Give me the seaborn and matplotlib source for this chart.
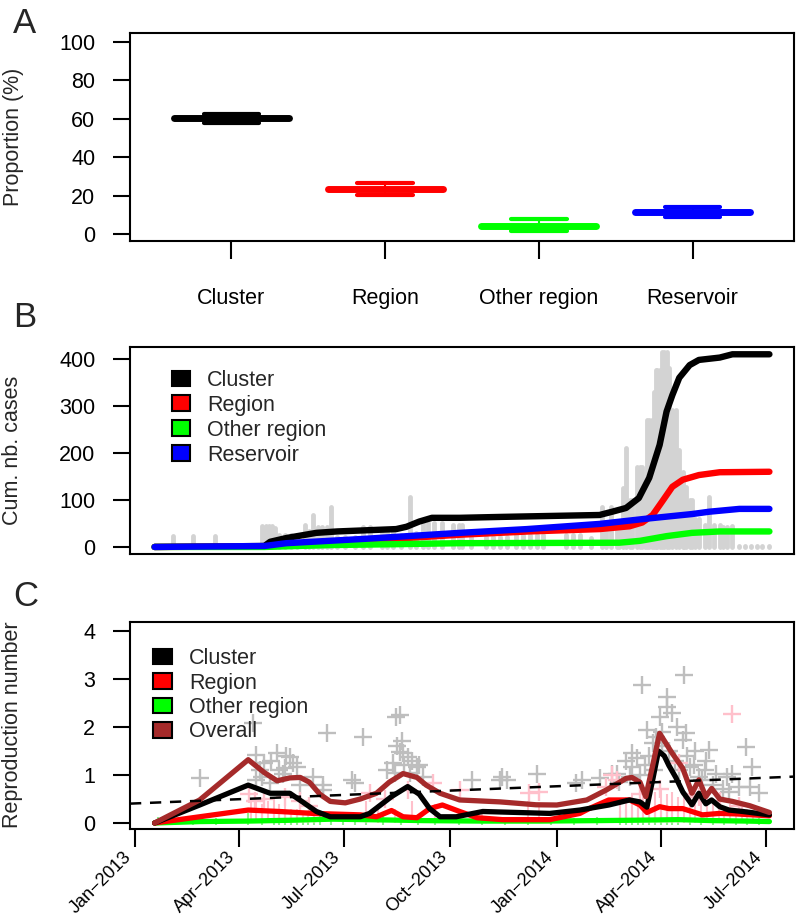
import numpy as np
import pandas as pd
import matplotlib
matplotlib.use('Agg')
import matplotlib.pyplot as plt
import matplotlib.dates as mdates
from matplotlib.patches import Patch
import seaborn as sns

# ---------------- panel A: proportion of infections by source
categories = ['Cluster', 'Region', 'Other region', 'Reservoir']
cat_colors = ['#000000', '#FF0000', '#00FF00', '#0000FF']
prop_median = [60.4, 23.4, 4.2, 11.5]
prop_lo = [57.7, 20.4, 1.7, 9.0]
prop_hi = [62.4, 26.8, 8.0, 14.2]

# ---------------- panel B: cumulative number of cases (days since 1 Jan 2013)
cluster_days = [17, 112, 117, 131, 157, 175, 226, 235, 246, 257, 281, 318, 402, 413, 425,
                436, 445, 454, 460, 465, 471, 480, 488, 506, 517, 549]
cluster_cum = [0, 2, 11, 19, 30, 33, 38, 43, 54, 62, 62, 64, 68, 75, 83,
               104, 147, 217, 288, 323, 360, 387, 398, 403, 410, 410]
region_days = [17, 112, 143, 186, 229, 281, 341, 402, 428, 439, 448, 456, 465, 474, 488, 506, 549]
region_cum = [0, 1, 6, 12, 18, 26, 33, 38, 44, 52, 68, 96, 128, 143, 153, 159, 160]
other_days = [17, 112, 169, 229, 281, 419, 437, 460, 482, 506, 549]
other_cum = [0, 0, 4, 6, 8, 9, 13, 23, 30, 33, 33]
reservoir_days = [17, 112, 131, 197, 281, 339, 402, 442, 482, 497, 523, 549]
reservoir_cum = [0, 2, 8, 17, 30, 38, 49, 60, 70, 75, 81, 81]

# grey incidence spikes behind the curves
inc_days = [33, 50, 69, 110, 113, 116, 119, 121, 125, 130, 135, 140, 147, 151, 154, 158,
            162, 166, 170, 175, 182, 190, 197, 203, 214, 218, 223, 230, 238, 243, 249, 254,
            259, 266, 275, 280, 283, 291, 304, 310, 316, 322, 330, 336, 342, 348, 353, 373,
            379, 385, 395, 404, 408, 412, 417, 419, 422, 425, 428, 430, 434, 437, 439, 441,
            443, 445, 447, 449, 451, 452, 454, 456, 458, 460, 462, 465, 468, 471, 474, 475,
            477, 480, 482, 485, 488, 493, 497, 501, 506, 509, 512, 517, 523, 528, 533, 538,
            543, 549]
inc_height = [24, 24, 24, 45, 45, 45, 45, 40, 25, 25, 25, 25, 47, 35, 67, 43,
              43, 43, 86, 22, 22, 22, 43, 43, 38, 38, 38, 25, 107, 30, 52, 50,
              50, 50, 47, 47, 47, 22, 22, 22, 22, 22, 25, 25, 25, 25, 25, 25,
              25, 25, 20, 86, 50, 84, 40, 40, 125, 210, 100, 100, 171, 171, 171, 125,
              270, 270, 270, 330, 376, 376, 376, 415, 415, 415, 380, 291, 291, 206, 160, 128,
              128, 100, 100, 60, 60, 47, 107, 47, 47, 43, 43, 44, 2, 2, 2, 2,
              2, 2]

# ---------------- panel C: reproduction numbers
overall_days = [17, 56, 98, 112, 123, 134, 143, 151, 160, 169, 182, 195, 209, 220, 232, 244,
                252, 264, 281, 290, 316, 347, 365, 391, 408, 425, 430, 437, 442, 448, 454,
                465, 474, 482, 488, 494, 499, 506, 517, 532, 549]
overall_r = [0.0, 0.48, 1.32, 1.05, 0.88, 0.94, 0.95, 0.85, 0.6, 0.45, 0.42, 0.5, 0.62, 0.85, 1.03, 0.95,
             0.79, 0.62, 0.48, 0.47, 0.44, 0.38, 0.375, 0.48, 0.69, 0.93, 0.95, 0.85, 0.55, 1.2, 1.87,
             1.45, 1.14, 0.62, 0.9, 0.55, 0.72, 0.5, 0.45, 0.36, 0.22]
cluster_r_days = [17, 56, 98, 117, 134, 145, 157, 169, 185, 195, 203, 222, 236, 246, 255, 264,
                  278, 301, 330, 359, 385, 410, 428, 437, 443, 448, 453, 458, 462, 468, 474,
                  482, 488, 494, 499, 506, 514, 526, 549]
cluster_r = [0.0, 0.375, 0.79, 0.62, 0.62, 0.44, 0.24, 0.13, 0.13, 0.13, 0.2, 0.55, 0.76, 0.6, 0.3, 0.13,
             0.13, 0.24, 0.22, 0.2, 0.27, 0.375, 0.48, 0.44, 0.33, 0.9, 1.5, 1.4, 1.2, 0.95, 0.65,
             0.38, 0.62, 0.4, 0.48, 0.34, 0.27, 0.24, 0.17]
region_r_days = [17, 56, 98, 125, 154, 195, 209, 222, 232, 244, 255, 266, 281, 296, 318, 359,
                 385, 393, 410, 428, 437, 443, 454, 462, 474, 491, 506, 520, 549]
region_r = [0.0, 0.13, 0.27, 0.24, 0.2, 0.17, 0.13, 0.26, 0.13, 0.11, 0.3, 0.375, 0.24, 0.11, 0.07, 0.07,
            0.2, 0.3, 0.48, 0.48, 0.375, 0.22, 0.34, 0.3, 0.3, 0.17, 0.2, 0.19, 0.15]
other_r_days = [17, 56, 98, 140, 170, 200, 250, 300, 350, 400, 440, 470, 500, 530, 549]
other_r = [0.0, 0.03, 0.04, 0.06, 0.08, 0.07, 0.05, 0.04, 0.04, 0.05, 0.06, 0.07, 0.05, 0.04, 0.03]

# linear trend of the overall reproduction number
trend_days = [2, 563]
trend_r = [0.41, 0.96]

# individual estimates (crosses)
grey_days = [56, 102, 105, 105, 108, 110, 112, 117, 118, 123, 125, 128, 130, 131, 134, 137,
             140, 143, 154, 163, 163, 166, 188, 190, 197, 218, 223, 225, 226, 227, 229, 229,
             231, 232, 233, 236, 238, 240, 244, 246, 249, 292, 316, 318, 322, 348, 382, 387,
             402, 413, 417, 419, 425, 428, 430, 430, 434, 437, 439, 441, 443, 445, 448, 449,
             451, 454, 456, 456, 460, 460, 462, 465, 467, 469, 471, 474, 475, 477, 478, 480,
             484, 485, 488, 491, 493, 494, 497, 500, 503, 509, 512, 514, 517, 523, 529, 532,
             534, 540]
grey_r = [0.93, 2.08, 1.42, 0.9, 1.1, 0.95, 1.25, 0.83, 1.3, 1.45, 1.1, 1.03, 1.15, 1.4, 1.38, 1.25,
          1.17, 0.8, 0.96, 0.69, 0.79, 1.87, 0.9, 0.83, 1.8, 1.1, 1.25, 1.05, 2.2, 1.6, 2.25, 1.48,
          1.7, 1.45, 1.2, 1.38, 1.05, 1.3, 1.17, 1.2, 0.96, 0.9, 0.9, 0.96, 0.9, 1.03, 0.83, 0.9,
          0.93, 1.03, 1.03, 0.85, 1.3, 0.95, 1.45, 1.17, 1.35, 1.0, 2.87, 1.2, 1.94, 1.4, 1.66, 1.1,
          1.8, 2.2, 1.6, 1.9, 2.62, 2.42, 1.5, 2.29, 1.3, 2.0, 1.1, 1.73, 3.08, 1.87, 1.4, 1.17,
          1.2, 1.5, 0.96, 0.9, 1.1, 1.3, 1.52, 0.8, 1.03, 0.7, 0.96, 0.65, 1.03, 0.75, 1.58, 0.75,
          1.17, 0.62]
pink_days = [99, 104, 112, 130, 143, 151, 203, 216, 236, 258, 281, 341, 350, 408, 413, 417,
             437, 454, 471, 480, 488, 506, 517, 523]
pink_r = [0.6, 0.45, 0.5, 0.55, 0.45, 0.35, 0.62, 0.5, 0.69, 0.83, 0.69, 0.62, 0.65, 0.75, 1.0, 0.9,
          0.6, 0.7, 1.25, 0.6, 0.55, 0.45, 2.27, 0.35]

# per-case ranges drawn as thin vertical strokes
pink_bar_days = [100, 105, 110, 115, 120, 125, 130, 135, 140, 145, 150, 155, 200, 210, 225, 240,
                 260, 280, 300, 340, 350, 420, 425, 430, 435, 440, 445, 450, 455, 460, 465, 470,
                 475, 480, 485, 490, 495, 500, 505, 510, 515, 520, 525, 530, 535]
pink_bar_top = [0.5, 0.45, 0.4, 0.45, 0.5, 0.4, 0.35, 0.3, 0.3, 0.25, 0.25, 0.2, 0.45, 0.4, 0.3, 0.45,
                0.4, 0.3, 0.25, 0.45, 0.4, 0.45, 0.55, 0.6, 0.5, 0.6, 0.55, 0.65, 0.7, 0.6, 0.65, 0.55,
                0.6, 0.5, 0.55, 0.45, 0.5, 0.4, 0.45, 0.35, 0.4, 0.3, 0.35, 0.3, 0.25]
green_bar_days = [20, 35, 50, 70, 98, 110, 120, 125, 130, 135, 140, 145, 150, 155, 160, 170,
                  180, 190, 200, 215, 230, 245, 260, 280, 300, 320, 340, 360, 380, 400, 420, 425,
                  430, 435, 440, 445, 450, 455, 460, 465, 470, 480, 490, 500, 510, 520, 530, 540]
green_bar_top = [0.12, 0.1, 0.08, 0.1, 0.2, 0.2, 0.25, 0.3, 0.25, 0.3, 0.28, 0.2, 0.25, 0.2, 0.18, 0.15,
                 0.12, 0.1, 0.12, 0.15, 0.1, 0.12, 0.15, 0.1, 0.1, 0.12, 0.1, 0.1, 0.1, 0.12, 0.25, 0.3,
                 0.28, 0.3, 0.35, 0.3, 0.25, 0.3, 0.25, 0.2, 0.2, 0.15, 0.15, 0.12, 0.12, 0.1, 0.1, 0.1]

start_date = pd.Timestamp('2013-01-01')
tick_dates = pd.date_range('2013-01-01', '2014-07-01', freq='QS')


def to_dates(days):
    return start_date + pd.to_timedelta(np.asarray(days, dtype=float), unit='D')


sns.set_theme(style='ticks', rc={
    'axes.edgecolor': 'black',
    'axes.linewidth': 1.5,
    'xtick.color': 'black',
    'ytick.color': 'black',
})
plt.rcParams['font.family'] = ['Liberation Sans', 'DejaVu Sans']
FS = 15.5

fig = plt.figure(figsize=(7.96, 9.16), dpi=100)
W, H = 796, 916


def add_axes(left, top, right, bottom):
    return fig.add_axes([left / W, 1 - bottom / H, (right - left) / W, (bottom - top) / H])


axA = add_axes(130, 33, 794, 241)
axB = add_axes(130, 347, 794, 554)
axC = add_axes(130, 622, 794, 829)

for ax in (axA, axB, axC):
    for s in ax.spines.values():
        s.set_visible(True)
        s.set_linewidth(1.5)
    ax.tick_params(axis='y', length=12, width=1.5, pad=13, labelsize=FS, direction='out')
    ax.tick_params(axis='x', length=13, width=1.5, labelsize=FS, direction='out')

# ---- A
for i, (m, lo, hi, c) in enumerate(zip(prop_median, prop_lo, prop_hi, cat_colors)):
    pos = i + 1
    axA.hlines([lo, hi], pos - 0.18, pos + 0.18, color=c, lw=3, capstyle='round')
    axA.vlines(pos, lo, hi, color=c, lw=1.5)
    axA.hlines(m, pos - 0.375, pos + 0.375, color=c, lw=5, capstyle='round')
axA.set_xlim(0.34, 4.66)
axA.set_ylim(-3.5, 104.7)
axA.set_xticks(range(1, len(categories) + 1))
axA.set_xticklabels(categories)
axA.tick_params(axis='x', pad=21)
axA.set_yticks([0, 20, 40, 60, 80, 100])

# ---- B
all_days = cluster_days + region_days + other_days + reservoir_days
d0, d1 = min(all_days), max(all_days)
pad = 0.04 * (d1 - d0)
xlim = (to_dates([d0 - pad])[0], to_dates([d1 + pad])[0])

axB.vlines(to_dates(inc_days), 0, inc_height, color='#D3D3D3', lw=3.5, capstyle='round')
series_B = [
    ('Cluster', cluster_days, cluster_cum, '#000000'),
    ('Region', region_days, region_cum, '#FF0000'),
    ('Other region', other_days, other_cum, '#00FF00'),
    ('Reservoir', reservoir_days, reservoir_cum, '#0000FF'),
]
for name, d, v, c in series_B:
    sns.lineplot(x=to_dates(d), y=v, color=c, lw=4.6, ax=axB, solid_capstyle='round')
axB.set_xlim(xlim)
axB.set_ylim(-15, 425.5)
axB.set_xticks([])
axB.set_yticks([0, 100, 200, 300, 400])
axB.legend(handles=[Patch(facecolor=c, edgecolor='black', lw=1.5, label=n) for n, _, _, c in series_B],
           loc='upper left', bbox_to_anchor=(0.063, 0.889), frameon=False, fontsize=FS,
           handlelength=0.85, handleheight=0.75, handletextpad=0.8, labelspacing=0.18,
           borderpad=0, borderaxespad=0)

# ---- C
axC.vlines(to_dates(green_bar_days), -0.04, green_bar_top, color='#90EE90', lw=1.5)
axC.vlines(to_dates(pink_bar_days), 0, pink_bar_top, color='#FFC0CB', lw=1.5)
sns.scatterplot(x=to_dates(grey_days), y=grey_r, marker='+', s=180, color='#BEBEBE',
                linewidth=1.7, ax=axC)
sns.scatterplot(x=to_dates(pink_days), y=pink_r, marker='+', s=180, color='#FFC0CB',
                linewidth=1.7, ax=axC)
series_C = [
    ('Cluster', cluster_r_days, cluster_r, '#000000'),
    ('Region', region_r_days, region_r, '#FF0000'),
    ('Other region', other_r_days, other_r, '#00FF00'),
    ('Overall', overall_days, overall_r, '#A52A2A'),
]
for name, d, v, c in [series_C[2], series_C[1], series_C[0], series_C[3]]:
    sns.lineplot(x=to_dates(d), y=v, color=c, lw=3.8, ax=axC, solid_capstyle='round')
tr = mdates.date2num(to_dates(trend_days))
axC.axline((tr[0], trend_r[0]), (tr[1], trend_r[1]), color='black', lw=1.8,
           linestyle=(0, (4.5, 3.5)))
axC.set_xlim(xlim)
axC.set_ylim(-0.125, 4.19)
axC.set_yticks([0, 1, 2, 3, 4])
axC.set_xticks(tick_dates)
axC.set_xticklabels([d.strftime('%b') + '\u2212' + d.strftime('%Y') for d in tick_dates],
                    rotation=45, ha='right', va='top', fontsize=13)
axC.tick_params(axis='x', pad=1)
axC.legend(handles=[Patch(facecolor=c, edgecolor='black', lw=1.5, label=n) for n, _, _, c in series_C],
           loc='upper left', bbox_to_anchor=(0.035, 0.874), frameon=False, fontsize=FS,
           handlelength=0.85, handleheight=0.75, handletextpad=0.8, labelspacing=0.16,
           borderpad=0, borderaxespad=0)

for ax in (axA, axB, axC):
    ax.set_xlabel('')
    ax.set_ylabel('')

# panel letters and axis titles
for letter, ybase in [('A', 33), ('B', 327), ('C', 606)]:
    fig.text(13 / W, 1 - ybase / H, letter, fontsize=25, va='baseline', ha='left')
for label, yc in [('Proportion (%)', 137), ('Cum. nb. cases', 450), ('Reproduction number', 725)]:
    fig.text(13 / W, 1 - yc / H, label, fontsize=FS, rotation=90, va='center', ha='center')

fig.savefig('out.png', dpi=100)
